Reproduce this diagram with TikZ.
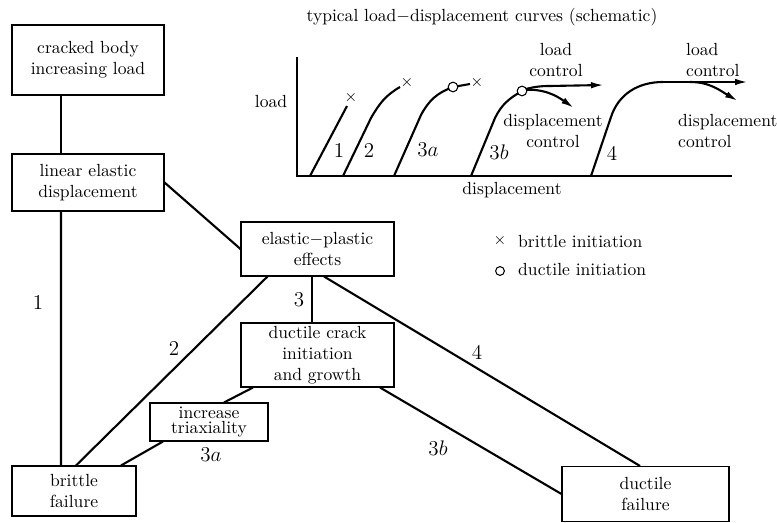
\documentclass[tikz,border=0pt]{standalone}
\usepackage{xcolor}
\usepackage{tikz}
\usetikzlibrary{shapes, arrows.meta, positioning}
\usepackage{amsmath}
\usepackage{amssymb}
\begin{document}
\begin{tikzpicture}[x=0.02cm, y=-0.02cm,
            box/.style={draw, rectangle, line width=0.6pt, align=center, inner sep=0pt},
            link/.style={line width=1.2pt},
            curve/.style={line width=1.2pt},
            tip/.style={-{Latex[length=2.6mm, width=1.3mm]}},
            num/.style={font=\large},
            ring/.style={draw, circle, fill=white, line width=0.6pt, inner sep=0pt, minimum size=5.5pt}]
            \useasboundingbox (0,0) rectangle (777,523);

            % flow chart
            \node[box, minimum width=3.04cm, minimum height=1.4cm] (body) at (88,60) {cracked body\\increasing load};
            \node[box, minimum width=3.04cm, minimum height=1.14cm] (linear) at (88,182.5) {linear elastic\\displacement};
            \node[box, minimum width=2.48cm, minimum height=1.0cm] (brittle) at (74,491) {brittle\\failure};
            \node[box, minimum width=3.06cm, minimum height=1.08cm] (plastic) at (317.5,249) {elastic$-$plastic\\effects};
            \node[box, minimum width=3.06cm, minimum height=1.28cm] (crack) at (317.5,355) {ductile crack\\initiation\\and growth};
            \node[box, minimum width=2.36cm, minimum height=0.76cm] (triax) at (209,422) {increase\\[-3pt]triaxiality};
            \node[box, minimum width=3.34cm, minimum height=1.1cm] (ductile) at (645.5,494) {ductile\\failure};

            \draw[link] ([xshift=-5.4mm]body.south) -- ([xshift=-5.4mm]linear.north);
            \draw[link] ([xshift=-5.4mm]linear.south) -- ([xshift=-2.6mm]brittle.north);
            \draw[link] (linear.east) -- (plastic.west);
            \draw[link] ([xshift=-10mm]plastic.south) -- ([xshift=0.4mm]brittle.north);
            \draw[link] ([xshift=-1.1mm]plastic.south) -- ([xshift=-1.1mm]crack.north);
            \draw[link] ([xshift=1.3mm]plastic.south) -- ([xshift=-1.1mm]ductile.north);
            \draw[link] ([xshift=12.5mm]crack.south) -- (ductile.west);
            \draw[link] ([xshift=-12.9mm]crack.south) -- ([xshift=3mm]triax.north);
            \draw[link] ([xshift=-9.2mm]triax.south) -- ([xshift=9.4mm]brittle.north);

            \node[num] (n1) at (38,302) {1};
            \node[num] (n2) at (174,348) {2};
            \node[num] (n3) at (299,300) {3};
            \node[num] (n4) at (477,352) {4};
            \node[num] (n3a) at (211,455) {$3a$};
            \node[num] (n3b) at (438,448) {$3b$};

            % legend
            \node (xmark) at (500,241) {\small$\times$};
            \node[anchor=west] (xtext) at (512,242) {brittle initiation};
            \node[ring, minimum size=5pt] (omark) at (500,271) {};
            \node[anchor=west] (otext) at (512,270) {ductile initiation};

            % load-displacement curves
            \node (title) at (482,17) {typical load$-$displacement curves (schematic)};
            \node (loadlab) at (271,102) {load};
            \node (displab) at (512,190) {displacement};
            \draw[curve] (297,57) -- (297,176) -- (732,176);

            \draw[curve] (310,176) -- (347,106);
            \node[inner sep=0pt] (x1) at (351,98) {\small$\times$};
            \draw[curve] (343,176) -- (371,118) to[out=60,in=210] (400,87);
            \node[inner sep=0pt] (x2) at (407,83) {\small$\times$};
            \draw[curve] (394,176) -- (421,115) to[out=62,in=200] (453,87) -- (470,84);
            \node[ring] (o3a) at (453,87) {};
            \node[inner sep=0pt] (x3a) at (477,83) {\small$\times$};
            \draw[curve] (471,176) -- (495,118) to[out=64,in=210] (522,91);
            \draw[curve, tip] (522,90) to[out=15,in=180] (550,86) -- (604,85);
            \draw[curve, tip] (522,90) to[out=5,in=145] (574,108);
            \node[ring] (o3b) at (522,91) {};
            \draw[curve] (591,176) -- (611,117) to[out=72,in=180] (663,82);
            \draw[curve, tip] (663,82) -- (748,82);
            \draw[curve, tip] (690,82) to[out=0,in=150] (738,101);

            \node[num] (c1) at (339,150) {1};
            \node[num] (c2) at (369,150) {2};
            \node[num] (c3a) at (428,150) {$3a$};
            \node[num] (c3b) at (499,152) {$3b$};
            \node[num] (c4) at (612,153) {4};

            \node[align=center] (lc1) at (556,60) {load\\control};
            \node[align=center] (dc1) at (553,131) {displacement\\control};
            \node[align=left, anchor=west] (lc2) at (680,60) {load\\control};
            \node[align=left, anchor=west] (dc2) at (672,131) {displacement\\control};
        \end{tikzpicture}
\end{document}
